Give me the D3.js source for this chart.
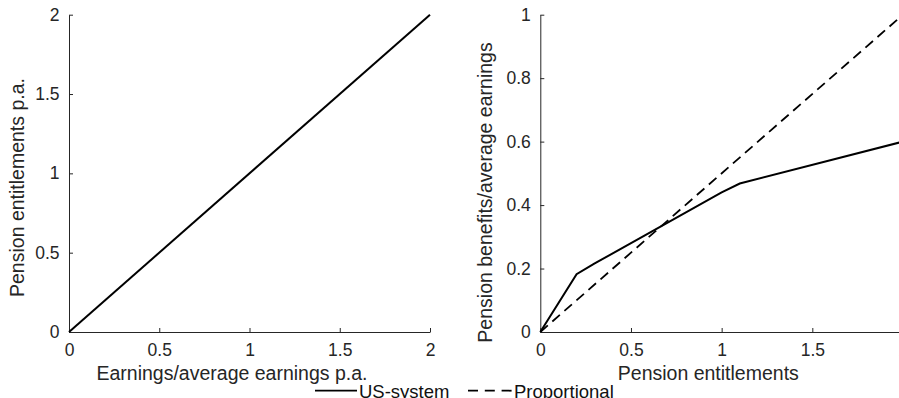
<!DOCTYPE html>
<html>
<head>
<meta charset="utf-8">
<script src="https://cdn.jsdelivr.net/npm/d3@7"></script>
<style>
  body { margin: 0; background: #fff; }
  svg { display: block; font-family: "Liberation Sans", Arial, sans-serif; }
</style>
</head>
<body>
<svg id="chart" width="899" height="398"></svg>
<script>
// left panel: earnings -> entitlements
var earnings = [0, 2];
var entitlements = [0, 2];

// right panel: entitlements -> benefits
var usX = [0, 0.2, 0.3, 1.0, 1.1, 2.0];
var usY = [0, 0.182, 0.216, 0.44, 0.468, 0.6];
var propX = [0, 2];
var propY = [0, 1];

var leftTicksX = [0, 0.5, 1, 1.5, 2];
var leftTicksY = [0, 0.5, 1, 1.5, 2];
var rightTicksX = [0, 0.5, 1, 1.5, 2];
var rightTicksY = [0, 0.2, 0.4, 0.6, 0.8, 1];

var svg = d3.select("#chart");
var axisColor = "#262626";

var panels = [
    {left: 69, right: 430, top: 14.7, bottom: 332, xd: [0, 2], yd: [0, 2],
     xt: leftTicksX, yt: leftTicksY,
     xlabel: "Earnings/average earnings p.a.", xlabelX: 232,
     ylabel: "Pension entitlements p.a.", ylabelX: 23.5, ylabelY: 187.5},
    {left: 540.3, right: 903, top: 14.7, bottom: 332, xd: [0, 2], yd: [0, 1],
     xt: rightTicksX, yt: rightTicksY,
     xlabel: "Pension entitlements", xlabelX: 708.3,
     ylabel: "Pension benefits/average earnings", ylabelX: 491.5, ylabelY: 192.5}
];

var fmt = function(d) { return String(d); };

panels.forEach(function(p) {
    p.x = d3.scaleLinear().domain(p.xd).range([p.left, p.right]);
    p.y = d3.scaleLinear().domain(p.yd).range([p.bottom, p.top]);

    var gx = svg.append("g")
        .attr("transform", "translate(0," + p.bottom + ")")
        .call(d3.axisBottom(p.x).tickValues(p.xt).tickFormat(fmt)
            .tickSizeInner(-4).tickSizeOuter(0).tickPadding(12));
    var gy = svg.append("g")
        .attr("transform", "translate(" + p.left + ",0)")
        .call(d3.axisLeft(p.y).tickValues(p.yt).tickFormat(fmt)
            .tickSizeInner(-4).tickSizeOuter(0).tickPadding(9.5));

    [gx, gy].forEach(function(g) {
        g.selectAll("path, line").attr("stroke", axisColor).attr("stroke-width", 1);
        g.selectAll("text").attr("fill", axisColor)
            .style("font-size", "17.5px").style("font-family", "Liberation Sans, Arial, sans-serif");
    });

    svg.append("text")
        .attr("x", p.xlabelX).attr("y", 380)
        .attr("text-anchor", "middle")
        .attr("fill", axisColor)
        .style("font-size", "19.5px")
        .text(p.xlabel);

    svg.append("text")
        .attr("transform", "translate(" + p.ylabelX + "," + p.ylabelY + ") rotate(-90)")
        .attr("text-anchor", "middle")
        .attr("fill", axisColor)
        .style("font-size", "19.5px")
        .text(p.ylabel);
});

var line = function(p) {
    return d3.line().x(function(d) { return p.x(d[0]); }).y(function(d) { return p.y(d[1]); });
};

// left panel line
var L = panels[0];
svg.append("path")
    .datum(d3.zip(earnings, entitlements))
    .attr("d", line(L))
    .attr("fill", "none").attr("stroke", "#000").attr("stroke-width", 2);

// right panel lines, the window cuts them at the right edge
var R = panels[1];
svg.append("path")
    .datum(d3.zip(propX, propY))
    .attr("d", line(R))
    .attr("fill", "none").attr("stroke", "#000").attr("stroke-width", 1.8)
    .attr("stroke-dasharray", "10,6");
svg.append("path")
    .datum(d3.zip(usX, usY))
    .attr("d", line(R))
    .attr("fill", "none").attr("stroke", "#000").attr("stroke-width", 2);

// legend
var legend = [
    {name: "US-system", dash: null, x1: 315, x2: 357, tx: 359},
    {name: "Proportional", dash: "10,6.8", x1: 468, x2: 512, tx: 514}
];
legend.forEach(function(d) {
    svg.append("line")
        .attr("x1", d.x1).attr("x2", d.x2).attr("y1", 390.7).attr("y2", 390.7)
        .attr("stroke", "#000").attr("stroke-width", 1.8)
        .attr("stroke-dasharray", d.dash);
    svg.append("text")
        .attr("x", d.tx).attr("y", 398)
        .attr("fill", "#111")
        .style("font-size", "18.5px")
        .text(d.name);
});
</script>
</body>
</html>
